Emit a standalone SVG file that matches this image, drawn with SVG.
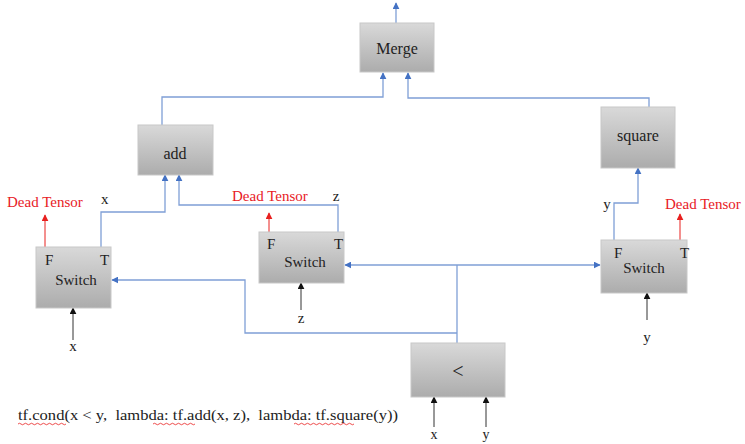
<svg xmlns="http://www.w3.org/2000/svg" width="745" height="444" viewBox="0 0 745 444">
<defs>
<linearGradient id="g" x1="0" y1="0" x2="0" y2="1">
<stop offset="0" stop-color="#d9d9d9"/>
<stop offset="1" stop-color="#acacac"/>
</linearGradient>
<marker id="ab" viewBox="0 0 10 10" refX="9" refY="5" markerWidth="7" markerHeight="7" markerUnits="userSpaceOnUse" orient="auto"><path d="M0,0 L10,5 L0,10 z" fill="#4472c4"/></marker>
<marker id="ar" viewBox="0 0 10 10" refX="9" refY="5" markerWidth="7" markerHeight="7" markerUnits="userSpaceOnUse" orient="auto"><path d="M0,0 L10,5 L0,10 z" fill="#e8201f"/></marker>
<marker id="ak" viewBox="0 0 10 10" refX="9" refY="5" markerWidth="7" markerHeight="7" markerUnits="userSpaceOnUse" orient="auto"><path d="M0,0 L10,5 L0,10 z" fill="#111"/></marker>
</defs>
<style>
.box{fill:url(#g);stroke:#c8c8c8;stroke-width:1}
.t{font-family:"Liberation Serif",serif;fill:#222}
.c{text-anchor:middle}
.dead{font-family:"Liberation Serif",serif;fill:#e8201f;font-size:15px}
.bl{fill:none;stroke:#7f9fd6;stroke-width:1.3}
.blm{marker-end:url(#ab)}
.rd{fill:none;stroke:#e8201f;stroke-width:1;marker-end:url(#ar)}
.bk{fill:none;stroke:#333;stroke-width:1;marker-end:url(#ak)}
.sq{fill:none;stroke:#e8201f;stroke-width:0.8}
</style>
<rect width="745" height="444" fill="#fff"/>

<g id="connectors">
<path class="bl blm" d="M396,23 V3"/>
<path class="bl blm" d="M162,125 V97 H383 V73"/>
<path class="bl blm" d="M649,107 V98 H408 V73"/>
<path class="bl blm" d="M101,247 V212 H165 V175"/>
<path class="bl blm" d="M338,232 V205 H179 V175"/>
<path class="bl blm" d="M614,240 V203 H638 V168"/>
<path class="bl" d="M457,352 V265"/>
<path class="bl blm" d="M457,265 H345"/>
<path class="bl blm" d="M457,265 H600"/>
<path class="bl blm" d="M457,333 H245 V280 H112"/>
<path class="rd" d="M45,247 V215"/>
<path class="rd" d="M269,232 V213"/>
<path class="rd" d="M680,240 V214"/>
<path class="bk" d="M73,340 V308"/>
<path class="bk" d="M301,310 V283"/>
<path class="bk" d="M647,320 V293"/>
<path class="bk" d="M434,427 V397"/>
<path class="bk" d="M486,427 V397"/>
</g>

<g id="merge">
<rect class="box" x="360" y="23" width="74" height="49"/>
<text class="t c" x="397" y="54" font-size="16">Merge</text>
</g>

<g id="add">
<rect class="box" x="138" y="125" width="75" height="50"/>
<text class="t c" x="175" y="159" font-size="16">add</text>
</g>

<g id="square">
<rect class="box" x="601" y="107" width="74" height="61"/>
<text class="t c" x="638" y="141" font-size="16">square</text>
</g>

<g id="switch-x">
<rect class="box" x="36" y="247" width="75" height="61"/>
<text class="t" x="45" y="265" font-size="15">F</text>
<text class="t" x="100" y="265" font-size="15">T</text>
<text class="t c" x="76" y="285" font-size="15">Switch</text>
<text class="dead" x="7" y="207">Dead Tensor</text>
<text class="t" x="101" y="204" font-size="15">x</text>
<text class="t c" x="73" y="351" font-size="15">x</text>
</g>

<g id="switch-z">
<rect class="box" x="259" y="232" width="85" height="51"/>
<text class="t" x="267" y="249" font-size="15">F</text>
<text class="t" x="334" y="249" font-size="15">T</text>
<text class="t c" x="305" y="267" font-size="15">Switch</text>
<text class="dead" x="232" y="201">Dead Tensor</text>
<text class="t c" x="336" y="201" font-size="15">z</text>
<text class="t c" x="301" y="323" font-size="15">z</text>
</g>

<g id="switch-y">
<rect class="box" x="601" y="240" width="86" height="53"/>
<text class="t" x="614" y="258" font-size="15">F</text>
<text class="t" x="680" y="258" font-size="15">T</text>
<text class="t c" x="644" y="273" font-size="15">Switch</text>
<text class="dead" x="665" y="209">Dead Tensor</text>
<text class="t c" x="607" y="209" font-size="15">y</text>
<text class="t c" x="647" y="342" font-size="15">y</text>
</g>

<g id="less">
<rect class="box" x="411" y="343" width="94" height="54"/>
<text class="t c" x="458" y="378" font-size="20" fill="#444">&lt;</text>
<text class="t c" x="434" y="439" font-size="14">x</text>
<text class="t c" x="486" y="439" font-size="14">y</text>
</g>

<g id="caption">
<text class="t" x="18" y="420" font-size="15" textLength="380" lengthAdjust="spacingAndGlyphs" style="white-space:pre">tf.cond(x &lt; y,  lambda: tf.add(x, z),  lambda: tf.square(y))</text>
<path class="sq" d="M18,424 q1.5,-1.5 3,0 t3,0 t3,0 t3,0 t3,0 t3,0 t3,0 t3,0 t3,0 t3,0 t3,0 t3,0 t3,0 t3,0 t3,0 t3,0"/>
<path class="sq" d="M153,424 q1.5,-1.5 3,0 t3,0 t3,0 t3,0 t3,0 t3,0 t3,0 t3,0 t3,0 t3,0 t3,0 t3,0 t3,0 t3,0"/>
<path class="sq" d="M294,424 q1.5,-1.5 3,0 t3,0 t3,0 t3,0 t3,0 t3,0 t3,0 t3,0 t3,0 t3,0 t3,0 t3,0 t3,0 t3,0 t3,0 t3,0 t3,0 t3,0 t3,0 t3,0"/>
</g>
</svg>
